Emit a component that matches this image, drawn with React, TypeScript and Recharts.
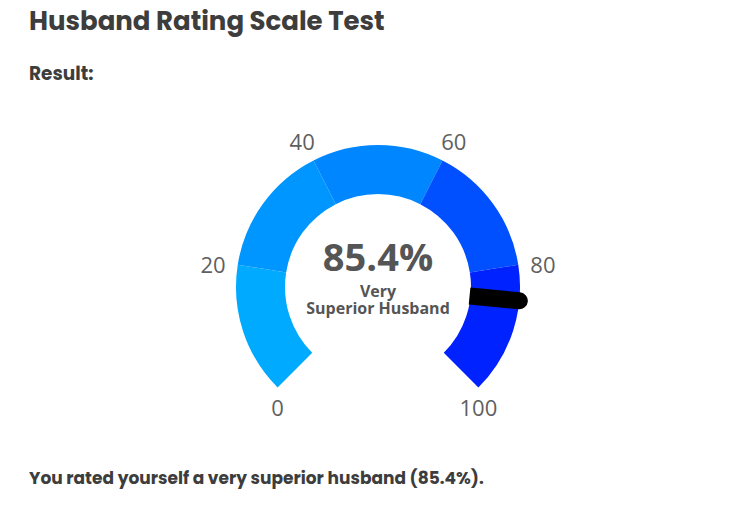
import { Pie, PieChart, Cell } from 'recharts';

const SEGMENTS = ['0-20', '20-40', '40-60', '60-80', '80-100'];
const SEGMENT_SIZES = [20, 20, 20, 20, 20];
const SEGMENT_COLORS = ['#00aaff', '#0096ff', '#0087ff', '#0050ff', '#0022ff'];
const TICKS = [0, 20, 40, 60, 80, 100];
const SCORE = 85.4;
const RATING_LINES = ['Very', 'Superior Husband'];

const CX = 378;
const CY = 287;
const INNER = 93;
const OUTER = 142;
const START_ANGLE = 225;
const END_ANGLE = -45;

const segmentData = SEGMENTS.map((name, i) => ({ name, value: SEGMENT_SIZES[i] }));

const textColor = '#3d3d3d';
const headingFont = 'Poppins, "Open Sans", sans-serif';

function valueToAngle(v: number) {
    return START_ANGLE - ((START_ANGLE - END_ANGLE) * v) / 100;
}

function polar(r: number, angleDeg: number) {
    const a = (angleDeg * Math.PI) / 180;
    return { x: CX + r * Math.cos(a), y: CY - r * Math.sin(a) };
}

// needle + labels drawn over the pie (pie sits on its own layer in recharts 3)
function GaugeOverlay() {
    const angle = valueToAngle(SCORE);
    const a = (angle * Math.PI) / 180;
    const half = 8.5;
    const px = Math.sin(a);
    const py = Math.cos(a);
    const p0 = polar(INNER - 1, angle);
    const p1 = polar(OUTER, angle);
    const needle = [
        `M ${p0.x + px * half} ${p0.y + py * half}`,
        `L ${p1.x + px * half} ${p1.y + py * half}`,
        `A ${half} ${half} 0 0 0 ${p1.x - px * half} ${p1.y - py * half}`,
        `L ${p0.x - px * half} ${p0.y - py * half}`,
        'Z',
    ].join(' ');

    return (
        <svg
            width={746}
            height={506}
            style={{ position: 'absolute', left: 0, top: 0, pointerEvents: 'none' }}
        >
            {TICKS.map((t) => {
                const ang = valueToAngle(t);
                let pos;
                if (t === 0 || t === 100) {
                    const end = polar(OUTER, ang);
                    pos = { x: end.x, y: end.y + 20 };
                } else {
                    const p = polar(167, ang);
                    pos = { x: p.x, y: p.y + 3 };
                }
                return (
                    <text
                        key={t}
                        x={pos.x}
                        y={pos.y}
                        textAnchor="middle"
                        dominantBaseline="central"
                        fontFamily='"Open Sans", sans-serif'
                        fontSize={22}
                        fill="#5f5f5f"
                    >
                        {t}
                    </text>
                );
            })}
            <path d={needle} fill="#000000" />
            <text
                x={CX}
                y={256}
                textAnchor="middle"
                dominantBaseline="central"
                fontFamily='"Open Sans", sans-serif'
                fontWeight={700}
                fontSize={38}
                fill="#555555"
            >
                {`${SCORE}%`}
            </text>
            <text
                x={CX}
                y={297}
                textAnchor="middle"
                fontFamily='"Open Sans", sans-serif'
                fontWeight={700}
                fontSize={16}
                fill="#555555"
            >
                {RATING_LINES.map((line, i) => (
                    <tspan key={line} x={CX} dy={i === 0 ? 0 : 17}>
                        {line}
                    </tspan>
                ))}
            </text>
        </svg>
    );
}

export default function App() {
    return (
        <div
            style={{
                position: 'absolute',
                left: 0,
                top: 0,
                width: 746,
                height: 506,
                background: '#ffffff',
                overflow: 'hidden',
            }}
        >
            <div
                style={{
                    position: 'absolute',
                    left: 29,
                    top: 2,
                    fontFamily: headingFont,
                    fontWeight: 700,
                    fontSize: 26,
                    color: textColor,
                    whiteSpace: 'nowrap',
                }}
            >
                Husband Rating Scale Test
            </div>
            <div
                style={{
                    position: 'absolute',
                    left: 29,
                    top: 60,
                    fontFamily: headingFont,
                    fontWeight: 700,
                    fontSize: 18.5,
                    color: textColor,
                }}
            >
                Result:
            </div>
            <div style={{ position: 'absolute', left: 0, top: 0 }}>
                <PieChart
                    width={746}
                    height={506}
                    margin={{ top: 0, right: 0, bottom: 0, left: 0 }}
                >
                    <Pie
                        data={segmentData}
                        dataKey="value"
                        cx={CX}
                        cy={CY}
                        innerRadius={INNER}
                        outerRadius={OUTER}
                        startAngle={START_ANGLE}
                        endAngle={END_ANGLE}
                        stroke="none"
                        isAnimationActive={false}
                    >
                        {segmentData.map((d, i) => (
                            <Cell key={d.name} fill={SEGMENT_COLORS[i]} />
                        ))}
                    </Pie>
                </PieChart>
            </div>
            <GaugeOverlay />
            <div
                style={{
                    position: 'absolute',
                    left: 29,
                    top: 465,
                    fontFamily: headingFont,
                    fontWeight: 700,
                    fontSize: 17,
                    color: textColor,
                    whiteSpace: 'nowrap',
                }}
            >
                You rated yourself a very superior husband ({SCORE}%).
            </div>
        </div>
    );
}
